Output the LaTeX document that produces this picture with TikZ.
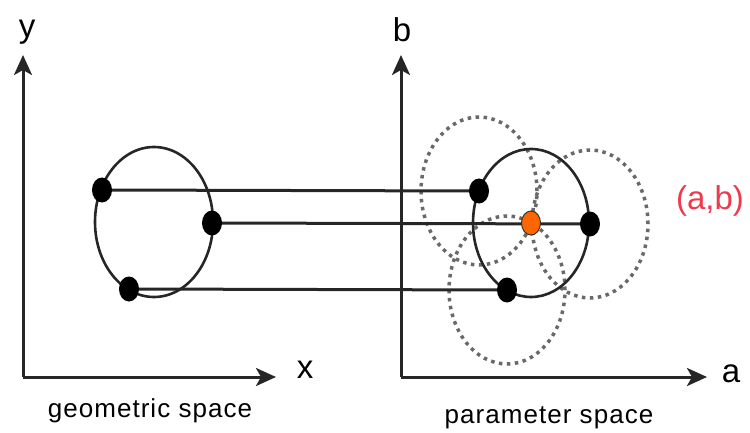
\documentclass[tikz,border=0pt]{standalone}
\usepackage{fontspec}
\setmainfont{Liberation Sans}
\newfontfamily\capfont[LetterSpace=4]{Liberation Sans}
\usetikzlibrary{arrows.meta,shapes.geometric,backgrounds}
\definecolor{ptred}{RGB}{238,58,78}
\definecolor{ptorange}{RGB}{255,102,0}
\definecolor{dotgray}{RGB}{105,105,105}
\tikzset{
  axisline/.style={line width=3pt,draw=black!85,-{Stealth[length=20pt,width=18pt,inset=5pt]}},
  blackdot/.style={ellipse,fill=black,minimum width=20pt,minimum height=25pt,inner sep=0pt},
  centerdot/.style={ellipse,fill=ptorange,draw=black!80,line width=1pt,minimum width=19pt,minimum height=24pt,inner sep=0pt},
  link/.style={line width=3pt,draw=black!85},
  solidring/.style={line width=2.6pt,draw=black!85},
  dotring/.style={line width=3.5pt,draw=dotgray,dash pattern=on 3.5pt off 4.5pt},
  biglabel/.style={font=\fontsize{33}{36}\selectfont,inner sep=0pt},
  caption/.style={font=\capfont\fontsize{26}{28}\selectfont,inner sep=0pt}
}
\begin{document}
\begin{tikzpicture}[x=1pt,y=-1pt]
\useasboundingbox (0,0) rectangle (750,433);
% axes coordinates
\coordinate (O1) at (23,377);
\coordinate (Y1) at (23,55);
\coordinate (X1) at (276,377);
\coordinate (O2) at (401,377);
\coordinate (Y2) at (401,55);
\coordinate (X2) at (707,377);
\draw[axisline] (O1) -- (Y1);
\draw[axisline] (O1) -- (X1);
\draw[axisline] (O2) -- (Y2);
\draw[axisline] (O2) -- (X2);
% points
\node[blackdot] (L1) at (102,190) {};
\node[blackdot] (L2) at (212,223) {};
\node[blackdot] (L3) at (129,289) {};
\node[blackdot] (R1) at (479,191) {};
\node[blackdot] (R2) at (590,224) {};
\node[blackdot] (R3) at (507,290) {};
\node[centerdot] (C) at (531,223) {};
\coordinate (LC) at (154,222);
\begin{scope}[on background layer]
  \draw[dotring] (R1.center) ellipse [x radius=58pt, y radius=74pt];
  \draw[dotring] (R2.center) ellipse [x radius=58pt, y radius=74pt];
  \draw[dotring] (R3.center) ellipse [x radius=58pt, y radius=74pt];
  \draw[solidring] (LC) ellipse [x radius=59pt, y radius=75pt];
  \draw[solidring] (C.center) ellipse [x radius=58pt, y radius=74pt];
  \draw[link] (L1.center) -- (R1.center);
  \draw[link] (L2.center) -- (R2.center);
  \draw[link] (L3.center) -- (R3.center);
\end{scope}
% labels
\node[biglabel] (ly) at (27,32) {y};
\node[biglabel] (lx) at (305,370) {x};
\node[biglabel] (lb) at (402,30) {b};
\node[biglabel] (la) at (731,374) {a};
\node[biglabel,text=ptred] (lab) at (710,201) {(a,b)};
\node[caption] (gs) at (150,411) {geometric space};
\node[caption] (ps) at (549,418) {parameter space};
\end{tikzpicture}
\end{document}
